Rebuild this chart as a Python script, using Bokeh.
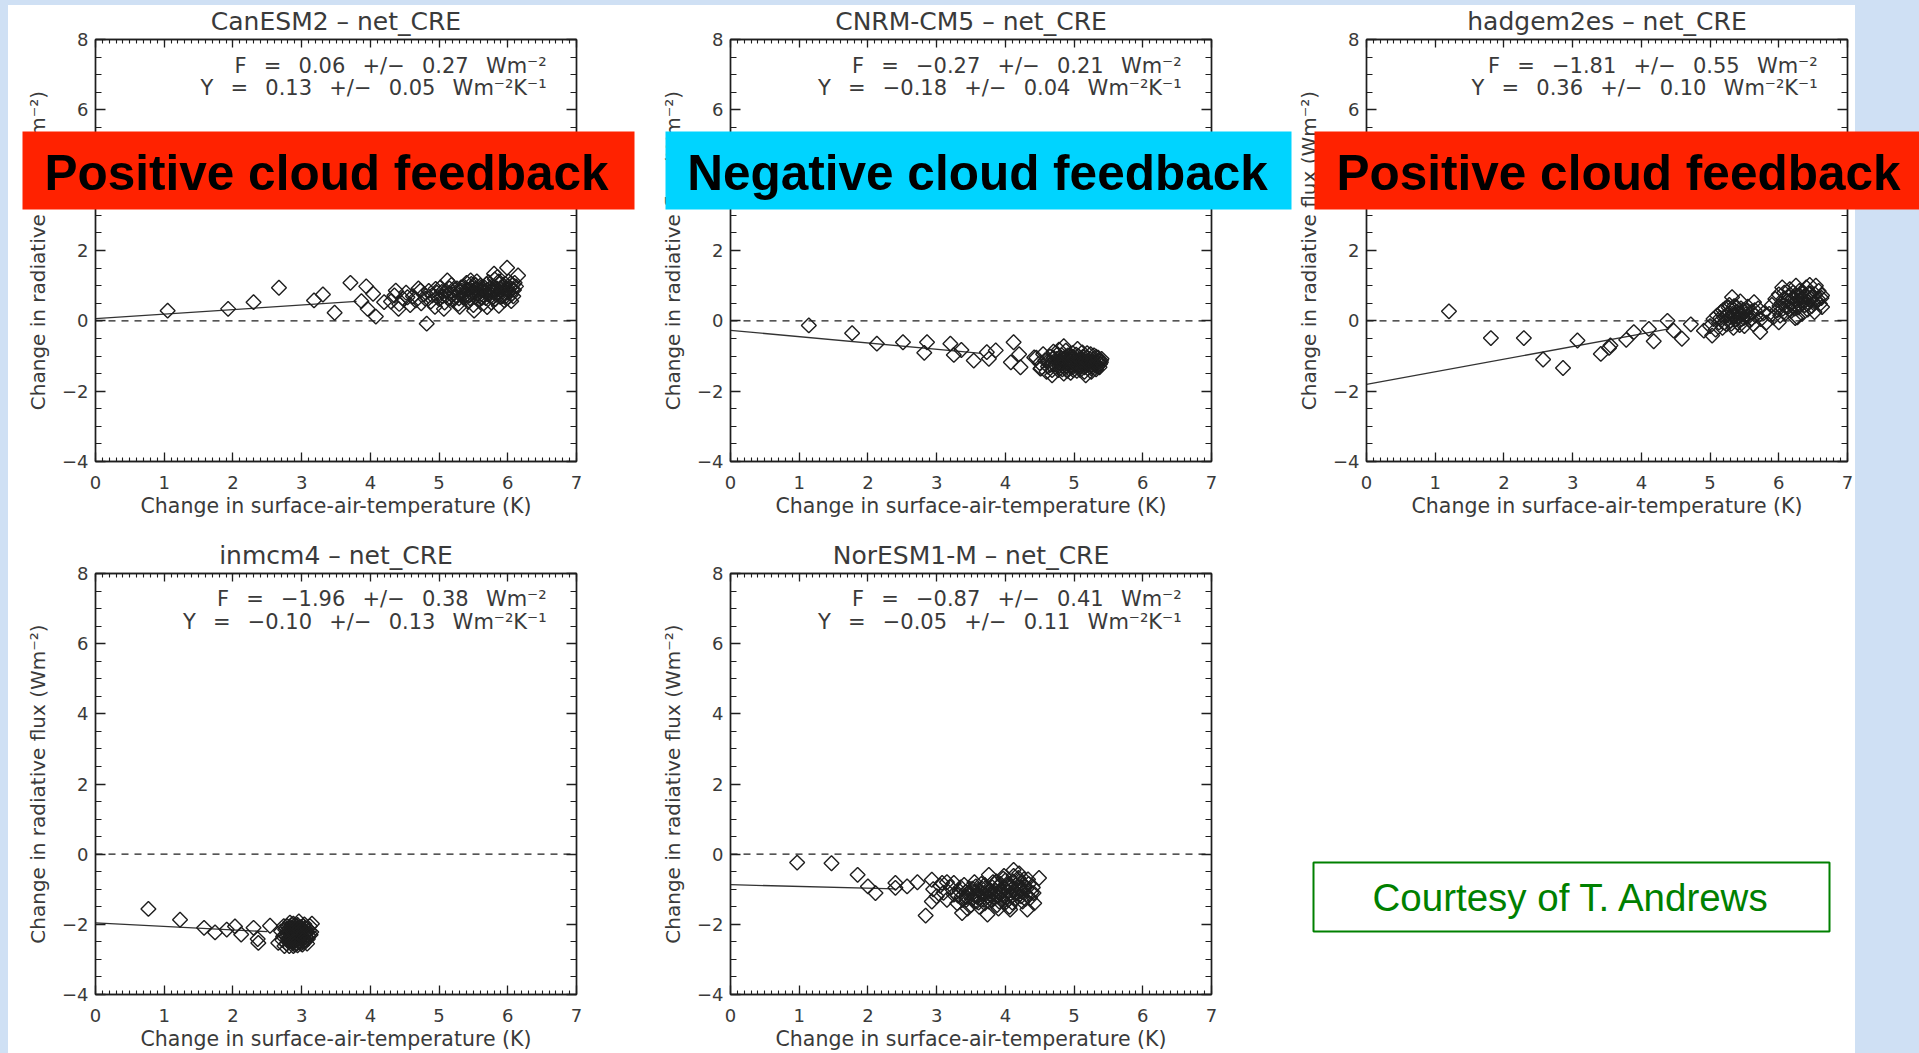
import numpy as np
from bokeh.plotting import figure
from bokeh.models import (Range1d, LinearAxis, FixedTicker, Label, BoxAnnotation,
                          Span, Title, Grid, GridBox, Spacer, CustomLabelingPolicy)
from bokeh.layouts import row, column
from bokeh.embed import file_html
from bokeh.resources import INLINE

# ---------------- data ----------------
models = ["CanESM2", "CNRM-CM5", "hadgem2es", "inmcm4", "NorESM1-M"]
forcing = [0.06, -0.27, -1.81, -1.96, -0.87]
forcing_err = [0.27, 0.21, 0.55, 0.38, 0.41]
feedback = [0.13, -0.18, 0.36, -0.10, -0.05]
feedback_err = [0.05, 0.04, 0.10, 0.13, 0.11]
fit_x_end = [3.8, 3.65, 4.4, 2.5, 2.4]

x_ticks = [0, 1, 2, 3, 4, 5, 6, 7]
y_ticks = [-4, -2, 0, 2, 4, 6, 8]
y_tick_labels = {-4: "\u22124", -2: "\u22122"}

banner_texts = ["Positive cloud feedback", "Negative cloud feedback", "Positive cloud feedback"]
credit_text = "Courtesy of T. Andrews"

canesm2_pts = [
    (1.05, 0.29), (1.93, 0.34), (2.30, 0.53), (2.67, 0.94), (3.18, 0.58), (3.31, 0.75),
    (3.48, 0.23), (3.71, 1.08), (3.94, 0.98), (3.87, 0.56), (3.96, 0.34), (4.08, 0.12),
    (4.04, 0.77), (4.20, 0.53), (4.37, 0.86), (4.41, 0.34), (4.54, 0.67), (4.73, 0.86),
    (4.82, -0.08), (4.95, 0.91), (5.07, 0.34), (5.12, 1.15), (5.22, 0.67), (5.51, 0.29),
    (5.46, 1.15), (5.80, 1.34), (5.99, 1.51), (6.15, 1.29), (6.05, 0.56), (5.87, 0.43),
    (5.70, 0.39),
    (4.30, 0.55), (4.35, 0.72), (4.42, 0.48), (4.48, 0.62), (4.52, 0.80), (4.58, 0.45),
    (4.62, 0.70), (4.66, 0.58), (4.70, 0.92), (4.74, 0.50), (4.78, 0.75), (4.80, 0.63),
    (4.85, 0.85), (4.88, 0.55), (4.90, 0.72), (4.94, 0.40), (4.97, 0.80), (5.00, 0.62),
    (5.02, 0.95), (5.05, 0.70), (5.08, 0.52), (5.10, 0.85), (5.13, 0.65), (5.16, 0.78),
    (5.18, 1.02), (5.20, 0.58), (5.23, 0.88), (5.25, 0.70), (5.28, 0.48), (5.30, 0.82),
    (5.32, 0.95), (5.35, 0.66), (5.37, 0.78), (5.40, 0.90), (5.42, 0.55), (5.44, 0.72),
    (5.47, 1.05), (5.49, 0.84), (5.52, 0.68), (5.54, 0.92), (5.56, 0.78), (5.58, 0.60),
    (5.60, 1.00), (5.62, 0.86), (5.64, 0.74), (5.66, 0.95), (5.68, 0.65), (5.70, 0.88),
    (5.72, 1.10), (5.73, 0.80), (5.75, 0.70), (5.77, 0.98), (5.79, 0.85), (5.81, 1.18),
    (5.82, 0.62), (5.84, 0.92), (5.86, 0.78), (5.88, 1.05), (5.90, 0.88), (5.92, 0.70),
    (5.94, 1.00), (5.95, 0.58), (5.97, 0.90), (5.99, 0.80), (6.01, 1.12), (6.03, 0.95),
    (6.05, 0.75), (6.07, 1.02), (6.09, 0.88), (6.12, 0.98), (5.50, 0.45), (5.65, 0.50),
    (5.30, 0.40), (5.85, 1.25), (5.76, 0.52), (6.00, 0.66), (5.55, 1.12), (5.40, 1.08),
    (5.21, 0.76), (5.26, 0.92), (5.29, 0.64), (5.33, 0.86), (5.36, 0.98), (5.39, 0.72),
    (5.43, 0.88), (5.45, 0.64), (5.48, 0.96), (5.51, 0.80), (5.53, 1.02), (5.57, 0.88),
    (5.59, 0.72), (5.61, 0.94), (5.63, 0.66), (5.67, 0.82), (5.69, 1.04), (5.71, 0.76),
    (5.74, 0.92), (5.76, 0.84), (5.78, 0.66), (5.80, 0.96), (5.83, 0.74), (5.85, 0.88),
    (5.87, 1.12), (5.89, 0.68), (5.91, 0.96), (5.93, 0.84), (5.96, 1.06), (5.98, 0.72),
    (6.00, 0.92), (6.02, 0.82), (6.04, 1.06), (6.06, 0.90), (6.08, 0.70), (6.10, 1.08),
    (5.10, 0.72), (5.15, 0.92), (4.98, 0.68), (5.04, 0.82),
]

cnrm_pts = [
    (1.14, -0.13), (1.77, -0.35), (2.13, -0.65), (2.51, -0.61), (2.86, -0.61), (2.82, -0.91),
    (3.20, -0.65), (3.25, -0.97), (3.36, -0.83), (3.54, -1.13), (3.73, -0.89), (3.76, -1.08),
    (3.86, -0.84), (4.12, -0.61), (4.08, -1.18), (4.20, -0.95), (4.22, -1.32), (4.42, -1.04),
    (4.51, -1.36), (4.68, -1.55), (4.85, -0.72), (5.39, -1.13), (5.17, -1.55),
    (4.45, -1.05), (4.50, -1.20), (4.55, -0.95), (4.58, -1.12), (4.62, -1.30), (4.65, -1.02),
    (4.68, -1.18), (4.70, -0.88), (4.72, -1.25), (4.75, -1.08), (4.77, -1.40), (4.80, -1.15),
    (4.82, -0.98), (4.84, -1.28), (4.86, -1.10), (4.88, -0.85), (4.90, -1.20), (4.92, -1.35),
    (4.94, -1.05), (4.96, -1.15), (4.98, -0.92), (5.00, -1.25), (5.02, -1.10), (5.04, -1.42),
    (5.06, -1.00), (5.08, -1.18), (5.10, -1.30), (5.12, -0.90), (5.14, -1.12), (5.16, -1.22),
    (5.18, -1.05), (5.20, -1.35), (5.22, -1.15), (5.24, -0.95), (5.26, -1.25), (5.28, -1.10),
    (5.30, -1.20), (5.32, -1.02), (5.34, -1.30), (5.36, -1.12), (5.38, -1.22), (5.40, -1.08),
    (4.60, -1.45), (4.85, -1.50), (5.05, -0.80), (4.95, -1.48), (5.15, -1.45), (4.78, -0.82),
    (5.25, -1.45), (4.98, -1.32), (4.88, -1.02), (5.08, -1.26), (4.52, -1.35), (4.68, -1.40),
    (5.32, -1.38),
    (4.62, -1.15), (4.66, -1.25), (4.70, -1.05), (4.73, -1.18), (4.76, -0.95), (4.79, -1.28),
    (4.81, -1.08), (4.83, -1.38), (4.87, -1.18), (4.89, -1.30), (4.91, -0.98), (4.93, -1.12),
    (4.95, -1.25), (4.97, -1.02), (4.99, -1.40), (5.01, -1.18), (5.03, -0.96), (5.05, -1.30),
    (5.07, -1.10), (5.09, -1.40), (5.11, -1.20), (5.13, -1.02), (5.15, -1.32), (5.17, -1.15),
    (5.19, -0.92), (5.21, -1.25), (5.23, -1.08), (5.25, -1.35), (5.27, -1.18), (5.29, -0.98),
    (5.31, -1.28), (5.33, -1.15), (5.35, -1.05), (5.37, -1.32), (5.39, -1.18), (4.90, -1.42),
    (5.00, -1.05), (5.10, -1.12), (4.80, -1.22), (5.20, -1.18),
]

hadgem_pts = [
    (1.20, 0.27), (1.81, -0.49), (2.29, -0.49), (2.57, -1.10), (2.86, -1.34), (3.07, -0.56),
    (3.41, -0.94), (3.53, -0.77), (3.55, -0.70), (3.78, -0.54), (3.89, -0.32), (4.11, -0.23),
    (4.18, -0.58), (4.38, 0.00), (4.47, -0.28), (4.59, -0.51), (4.72, -0.10), (4.91, -0.28),
    (5.03, -0.42), (5.32, 0.67), (5.64, 0.53), (5.73, -0.32), (6.54, 1.00), (6.63, 0.39),
    (6.63, 0.72), (6.27, 0.10), (6.00, -0.04),
    (5.00, -0.15), (5.05, 0.05), (5.08, -0.25), (5.10, 0.15), (5.13, -0.05), (5.16, 0.25),
    (5.18, -0.20), (5.20, 0.10), (5.22, 0.35), (5.24, -0.10), (5.26, 0.20), (5.28, 0.45),
    (5.30, 0.00), (5.32, 0.28), (5.34, -0.20), (5.36, 0.12), (5.38, 0.40), (5.40, -0.05),
    (5.42, 0.22), (5.44, 0.55), (5.46, 0.05), (5.48, 0.30), (5.50, -0.15), (5.52, 0.18),
    (5.55, 0.40), (5.58, 0.02), (5.60, 0.25), (5.63, -0.10), (5.66, 0.15), (5.70, 0.35),
    (5.74, 0.05), (5.78, 0.22), (5.82, -0.05),
    (5.86, 0.20), (5.90, 0.45), (5.92, 0.10), (5.95, 0.62), (5.98, 0.30), (6.00, 0.75),
    (6.02, 0.15), (6.04, 0.50), (6.06, 0.35), (6.08, 0.80), (6.10, 0.22), (6.12, 0.58),
    (6.14, 0.40), (6.16, 0.90), (6.18, 0.28), (6.20, 0.65), (6.22, 0.48), (6.24, 0.08),
    (6.26, 0.72), (6.28, 0.38), (6.30, 0.85), (6.32, 0.55), (6.34, 0.20), (6.36, 0.68),
    (6.38, 0.45), (6.40, 0.95), (6.42, 0.32), (6.44, 0.60), (6.46, 0.78), (6.48, 0.42),
    (6.50, 0.70), (6.52, 0.25), (6.55, 0.55), (6.58, 0.85), (6.60, 0.48), (6.62, 0.65),
    (6.05, 0.95), (6.25, 1.00), (6.45, 1.02),
    (5.15, 0.08), (5.19, 0.30), (5.21, -0.05), (5.25, 0.15), (5.27, 0.38), (5.29, 0.12),
    (5.31, -0.08), (5.33, 0.20), (5.35, 0.42), (5.37, 0.05), (5.39, 0.25), (5.41, 0.10),
    (5.43, -0.12), (5.45, 0.35), (5.47, 0.18), (5.49, 0.08), (5.53, 0.28), (5.56, 0.12),
    (5.60, 0.05), (5.65, 0.30),
    (6.01, 0.42), (6.07, 0.62), (6.11, 0.40), (6.15, 0.70), (6.19, 0.52), (6.21, 0.80),
    (6.23, 0.35), (6.27, 0.58), (6.29, 0.72), (6.31, 0.45), (6.33, 0.65), (6.35, 0.82),
    (6.37, 0.55), (6.39, 0.70), (6.41, 0.48), (6.43, 0.78), (6.47, 0.62), (6.51, 0.50),
    (6.53, 0.75), (6.57, 0.62),
]

inmcm4_pts = [
    (0.77, -1.56), (1.23, -1.87), (1.58, -2.10), (1.74, -2.23), (1.91, -2.15), (2.03, -2.06),
    (2.12, -2.29), (2.30, -2.10), (2.36, -2.42), (2.37, -2.53), (2.54, -2.04), (2.66, -2.53),
    (2.70, -2.20), (2.72, -2.45), (2.74, -2.05), (2.76, -2.30), (2.78, -2.55), (2.80, -2.15),
    (2.82, -2.38), (2.83, -1.95), (2.84, -2.25), (2.85, -2.50), (2.86, -2.10), (2.87, -2.32),
    (2.88, -2.62), (2.89, -2.18), (2.90, -2.40), (2.91, -2.02), (2.92, -2.28), (2.93, -2.55),
    (2.94, -2.12), (2.95, -2.35), (2.96, -1.92), (2.97, -2.22), (2.98, -2.48), (2.99, -2.08),
    (3.00, -2.30), (3.01, -2.58), (3.02, -2.15), (3.03, -2.40), (3.04, -2.00), (3.05, -2.25),
    (3.06, -2.45), (3.08, -2.12), (3.10, -2.32), (3.12, -2.05), (3.14, -2.22), (3.15, -1.98),
    (2.86, -2.00), (2.88, -2.45), (2.90, -2.28), (2.92, -2.18), (2.94, -2.42), (2.96, -2.30),
    (2.98, -2.20), (2.84, -2.35), (2.82, -2.62), (3.00, -2.10), (2.75, -2.62), (2.87, -2.52),
    (2.93, -2.05), (2.97, -2.36),
    (2.76, -2.15), (2.78, -2.35), (2.79, -2.05), (2.80, -2.45), (2.81, -2.25), (2.82, -2.12),
    (2.83, -2.48), (2.84, -2.08), (2.85, -2.30), (2.86, -2.42), (2.87, -2.15), (2.88, -2.25),
    (2.89, -2.50), (2.90, -2.10), (2.91, -2.35), (2.92, -2.45), (2.93, -2.22), (2.94, -2.02),
    (2.95, -2.50), (2.96, -2.15), (2.97, -2.40), (2.98, -2.30), (2.99, -2.55), (3.00, -2.20),
    (3.01, -2.35), (3.02, -2.05), (3.03, -2.50), (3.04, -2.28), (3.05, -2.12), (3.06, -2.35),
    (3.07, -2.22), (3.09, -2.42), (3.11, -2.18), (3.13, -2.30), (2.85, -2.18), (2.87, -2.40),
    (2.89, -2.30), (2.91, -2.15), (2.93, -2.38), (2.95, -2.25), (2.97, -2.12), (2.99, -2.35),
    (2.81, -2.50), (2.79, -2.28), (3.01, -2.45), (2.90, -2.58), (2.94, -2.60), (2.88, -1.98),
    (3.08, -2.55), (2.73, -2.35),
]

noresm_pts = [
    (0.97, -0.24), (1.47, -0.26), (1.85, -0.59), (2.00, -0.92), (2.11, -1.11), (2.40, -0.82),
    (2.40, -0.96), (2.57, -0.92), (2.72, -0.80), (2.84, -1.75), (2.93, -0.73), (2.93, -1.35),
    (3.08, -0.82), (3.25, -0.82), (3.37, -1.68), (3.74, -1.72), (3.76, -0.59), (4.12, -0.45),
    (4.07, -1.58), (4.32, -1.58), (4.49, -0.68), (4.41, -1.11),
    (2.95, -1.00), (3.00, -1.20), (3.05, -0.90), (3.10, -1.10), (3.15, -1.30), (3.20, -0.95),
    (3.25, -1.15), (3.30, -1.40), (3.33, -1.05), (3.36, -1.22), (3.40, -0.88), (3.43, -1.30),
    (3.46, -1.10), (3.50, -1.45), (3.52, -0.98), (3.55, -1.18), (3.58, -1.35), (3.60, -1.02),
    (3.63, -1.25), (3.65, -0.85), (3.68, -1.12), (3.70, -1.40), (3.72, -0.95), (3.75, -1.20),
    (3.78, -1.05), (3.80, -1.32), (3.82, -0.80), (3.85, -1.15), (3.88, -1.45), (3.90, -0.92),
    (3.92, -1.10), (3.95, -1.28), (3.97, -0.70), (4.00, -1.00), (4.02, -1.22), (4.05, -0.85),
    (4.08, -1.12), (4.10, -1.38), (4.12, -0.62), (4.15, -0.98), (4.18, -1.20), (4.20, -0.78),
    (4.22, -1.05), (4.25, -1.35), (4.28, -0.90), (4.30, -1.15), (4.33, -0.72), (4.36, -1.25),
    (4.40, -0.95), (4.42, -1.40), (3.45, -1.55), (3.62, -1.50), (3.90, -1.55), (4.06, -1.50),
    (3.98, -0.62), (4.20, -0.55), (3.55, -0.80), (3.15, -0.80),
    (3.31, -1.18), (3.35, -0.95), (3.38, -1.30), (3.42, -1.08), (3.44, -1.22), (3.48, -0.98),
    (3.51, -1.28), (3.54, -1.08), (3.57, -0.92), (3.59, -1.22), (3.61, -1.38), (3.64, -1.10),
    (3.66, -0.98), (3.69, -1.30), (3.71, -1.15), (3.74, -1.02), (3.76, -1.35), (3.79, -1.18),
    (3.81, -0.95), (3.84, -1.25), (3.86, -1.05), (3.89, -1.20), (3.91, -1.35), (3.93, -0.85),
    (3.94, -1.02), (3.96, -1.15), (3.99, -1.40), (4.01, -0.88), (4.03, -1.08), (4.04, -1.30),
    (4.07, -0.95), (4.09, -1.20), (4.11, -0.78), (4.13, -1.05), (4.14, -1.28), (4.16, -0.88),
    (4.17, -1.12), (4.19, -0.68), (4.21, -0.95), (4.23, -1.20), (4.24, -0.82), (4.26, -1.08),
    (4.27, -0.72), (4.29, -1.28), (4.31, -0.98), (4.34, -0.85), (4.38, -1.10), (3.87, -0.78),
    (4.00, -0.75), (3.70, -0.88),
]

all_pts = [canesm2_pts, cnrm_pts, hadgem_pts, inmcm4_pts, noresm_pts]

# ---------------- style ----------------
FONT = "DejaVu Sans"
TXT = "#3a3a3a"
INK = "#1e1e1e"
BG = "#cfe0f4"
RED = "#ff2200"
CYAN = "#00d4ff"
GREEN = "#008000"
MINUS = "\u2212"
GAP = "\u2002 "   # wide gap (SVG collapses repeated plain spaces)

x_minor = [i / 10 for i in range(71)]
y_minor = [-4 + i / 2 for i in range(25)]

NO_LABELS = """
for (const i of indices)
    indices.unset(i)
return indices
"""


def fmt(v):
    s = f"{abs(v):.2f}"
    return (MINUS + s) if v < 0 else s


def add_axis(p, side, ticks, minor, major_len, minor_len, label=None):
    ax = LinearAxis(ticker=FixedTicker(ticks=ticks, minor_ticks=minor))
    ax.major_tick_in = major_len
    ax.major_tick_out = 0
    ax.minor_tick_in = minor_len
    ax.minor_tick_out = 0
    ax.axis_line_color = INK
    ax.axis_line_width = 1.4
    ax.major_tick_line_color = INK
    ax.major_tick_line_width = 1.3
    ax.minor_tick_line_color = INK
    ax.minor_tick_line_width = 1.1
    if label is None:
        ax.major_label_text_font_size = "0px"
        ax.major_label_standoff = 0
        ax.major_label_policy = CustomLabelingPolicy(code=NO_LABELS)
    else:
        ax.axis_label = label
        ax.axis_label_text_font = FONT
        ax.axis_label_text_font_style = "normal"
        ax.axis_label_text_color = TXT
        ax.major_label_text_font = FONT
        ax.major_label_text_font_size = "18px"
        ax.major_label_text_color = TXT
        if side == "left":
            ax.axis_label_text_font_size = "20px"
            ax.major_label_standoff = 7
            ax.axis_label_standoff = 9
            ax.major_label_overrides = y_tick_labels
        else:
            ax.axis_label_text_font_size = "20.5px"
            ax.major_label_standoff = 14
            ax.axis_label_standoff = 2
    p.add_layout(ax, side)


def panel(k, width, height, bl, br, bt, bb):
    p = figure(width=width, height=height, x_range=Range1d(0, 7), y_range=Range1d(-4, 8),
               output_backend="svg", toolbar_location=None, title_location=None,
               x_axis_location=None, y_axis_location=None,
               min_border_left=bl, min_border_right=br, min_border_top=bt, min_border_bottom=bb)
    for r in list(p.center):
        if isinstance(r, Grid):
            r.visible = False
    p.border_fill_alpha = 0
    p.background_fill_color = "white"
    p.outline_line_color = INK
    p.outline_line_width = 1.4

    add_axis(p, "below", x_ticks, x_minor, 9, 4, "Change in surface-air-temperature (K)")
    add_axis(p, "left", y_ticks, y_minor, 10, 6, "Change in radiative flux (Wm\u207b\u00b2)")
    add_axis(p, "above", x_ticks, x_minor, 8, 4)
    add_axis(p, "right", y_ticks, y_minor, 10, 6)
    p.add_layout(Title(text=f"{models[k]} \u2013 net_CRE", align="center", text_font=FONT,
                       text_font_size="25px", text_font_style="normal", text_color=TXT,
                       standoff=8), "above")

    p.add_layout(Span(location=0, dimension="width", line_color=INK, line_width=1.4,
                      line_dash="7 6"))
    xe = fit_x_end[k]
    p.line([0, xe], [forcing[k], forcing[k] + feedback[k] * xe], line_color="#333333",
           line_width=1.3)
    xs = [a for a, b in all_pts[k]]
    ys = [b for a, b in all_pts[k]]
    p.scatter(xs, ys, marker="square", size=10.5, angle=np.pi / 4, fill_color=None,
              line_color=INK, line_width=1.4)

    t1 = GAP.join(["F", "=", fmt(forcing[k]), "+/" + MINUS, f"{forcing_err[k]:.2f}",
                   "Wm\u207b\u00b2"])
    t2 = GAP.join(["Y", "=", fmt(feedback[k]), "+/" + MINUS, f"{feedback_err[k]:.2f}",
                   "Wm\u207b\u00b2K\u207b\u00b9"])
    for txt, yy in ((t1, 7.26), (t2, 6.62)):
        p.add_layout(Label(x=6.565, y=yy, text=txt, text_align="right",
                           text_baseline="middle", text_font=FONT,
                           text_font_size="21px", text_color=TXT))
    return p


p1 = panel(0, 650, 534, 95, 74, 39, 73)
p2 = panel(1, 643, 534, 80, 82, 39, 73)
p3 = panel(2, 626, 534, 73, 72, 39, 73)
p4 = panel(3, 650, 519, 95, 74, 39, 58)
p5 = panel(4, 643, 519, 80, 82, 39, 58)

main = column(row(p1, p2, p3), row(p4, p5, Spacer(width=626, height=519)))

# ---------------- overlay (banners + credit box), page-pixel coordinates ----------------
ov = figure(width=1919, height=1053, x_range=Range1d(0, 1919), y_range=Range1d(1053, 0),
            output_backend="svg", toolbar_location=None, title_location=None,
            x_axis_location=None, y_axis_location=None,
            min_border_left=0, min_border_right=0, min_border_top=0, min_border_bottom=0)
for r in list(ov.center):
    if isinstance(r, Grid):
        r.visible = False
ov.border_fill_alpha = 0
ov.background_fill_alpha = 0
ov.outline_line_color = None

banner_boxes = [(22, 634, RED, 326), (665, 1291, CYAN, 977), (1314, 1919, RED, 1618)]
for (l, r_, col, cx), txt in zip(banner_boxes, banner_texts):
    ov.add_layout(BoxAnnotation(left=l, right=r_, top=131, bottom=209, fill_color=col,
                                fill_alpha=1.0, line_color=None))
    ov.add_layout(Label(x=cx, y=172, text=txt, text_align="center", text_baseline="middle",
                        text_font="Liberation Sans", text_font_style="bold",
                        text_font_size="49.5px", text_color="black"))

ov.add_layout(BoxAnnotation(left=1313, right=1829, top=862, bottom=931, fill_color="white",
                            fill_alpha=1.0, line_color=GREEN, line_alpha=1.0, line_width=2))
ov.add_layout(Label(x=1571, y=896.5, text=credit_text, text_align="center",
                    text_baseline="middle", text_font="Liberation Sans",
                    text_font_size="38.5px", text_color=GREEN))

bg = (f"linear-gradient(to bottom, {BG} 0px, {BG} 5px, transparent 5px), "
      f"linear-gradient(to right, {BG} 0px, {BG} 8px, #ffffff 8px, #ffffff 1855px, {BG} 1855px)")
root = GridBox(children=[(main, 0, 0), (ov, 0, 0)], styles={"background": bg})

open("out.html", "w").write(file_html(root, INLINE))
